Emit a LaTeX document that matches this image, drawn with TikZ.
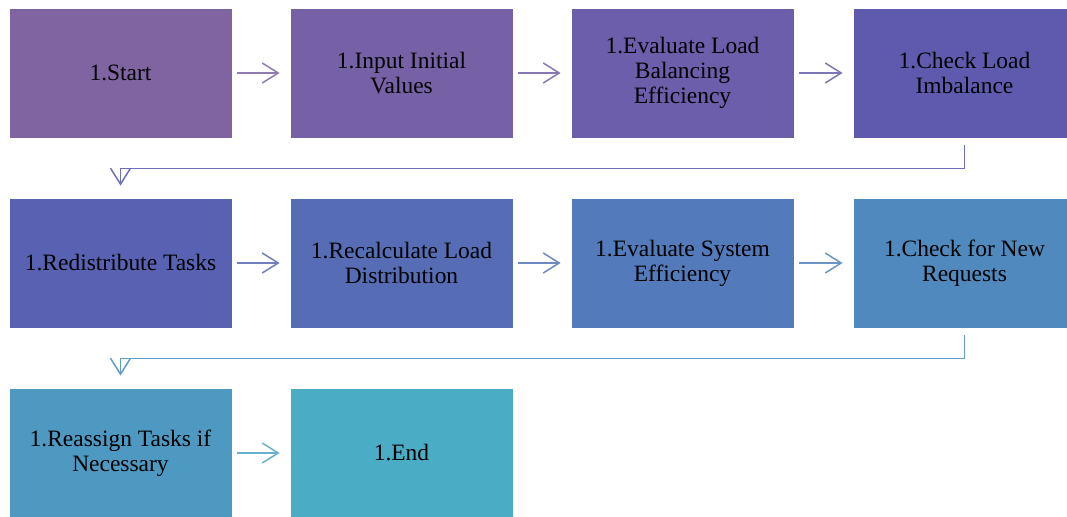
\documentclass[tikz,border=0pt]{standalone}
\usepackage{fontspec}
\setmainfont{Liberation Serif}
\usetikzlibrary{arrows.meta}
\definecolor{c1}{HTML}{8064A2}
\definecolor{c2}{HTML}{7761A6}
\definecolor{c3}{HTML}{6C5EAA}
\definecolor{c4}{HTML}{5E5BAE}
\definecolor{c5}{HTML}{5861B2}
\definecolor{c6}{HTML}{566DB6}
\definecolor{c7}{HTML}{537ABA}
\definecolor{c8}{HTML}{5089BE}
\definecolor{c9}{HTML}{4E99C2}
\definecolor{c10}{HTML}{4BACC6}
\tikzset{
  box/.style={rectangle, draw=white, line width=0.6pt, minimum width=167.25pt, minimum height=97.5pt,
    inner sep=0pt, align=center, text=black,
    font=\fontsize{17.6pt}{18.75pt}\selectfont},
  conn/.style={line width=1.1pt, -{Straight Barb[length=12pt,width=15pt]}},
  hconn/.style={conn, shorten <=3.75pt, shorten >=7.5pt},
  bconn/.style={conn, shorten <=5.25pt, shorten >=9pt}
}
\begin{document}
\begin{tikzpicture}[x=0.75pt,y=-0.75pt]
\useasboundingbox (0,0) rectangle (1067,517);
\fill[white] (0,0) rectangle (1067,517);
\begin{scope}
\clip (0,0) rectangle (1067,517);
\node[box, fill=c1] (b1) at (120.5,73) {1.Start};
\node[box, fill=c2] (b2) at (401.5,73) {1.Input Initial\\Values};
\node[box, fill=c3] (b3) at (682.5,73) {1.Evaluate Load\\Balancing\\Efficiency};
\node[box, fill=c4] (b4) at (964.5,73) {1.Check Load\\Imbalance};
\node[box, fill=c5] (b5) at (120.5,263) {1.Redistribute Tasks};
\node[box, fill=c6] (b6) at (401.5,263) {1.Recalculate Load\\Distribution};
\node[box, fill=c7] (b7) at (682.5,263) {1.Evaluate System\\Efficiency};
\node[box, fill=c8] (b8) at (964.5,263) {1.Check for New\\Requests};
\node[box, fill=c9] (b9) at (120.5,453) {1.Reassign Tasks if\\Necessary};
\node[box, fill=c10] (b10) at (401.5,453) {1.End};
\end{scope}
\draw[hconn, draw={c1!50!c2!85!white}] (b1.east) -- (b2.west);
\draw[hconn, draw={c2!50!c3!85!white}] (b2.east) -- (b3.west);
\draw[hconn, draw={c3!50!c4!85!white}] (b3.east) -- (b4.west);
\draw[bconn, draw={c4!50!c5!90!white}] (b4.south) -- ++(0,30) -| (b5.north);
\draw[hconn, draw={c5!50!c6!85!white}] (b5.east) -- (b6.west);
\draw[hconn, draw={c6!50!c7!85!white}] (b6.east) -- (b7.west);
\draw[hconn, draw={c7!50!c8!85!white}] (b7.east) -- (b8.west);
\draw[bconn, draw={c8!50!c9!90!white}] (b8.south) -- ++(0,30) -| (b9.north);
\draw[hconn, draw={c9!50!c10!85!white}] (b9.east) -- (b10.west);
\end{tikzpicture}
\end{document}
